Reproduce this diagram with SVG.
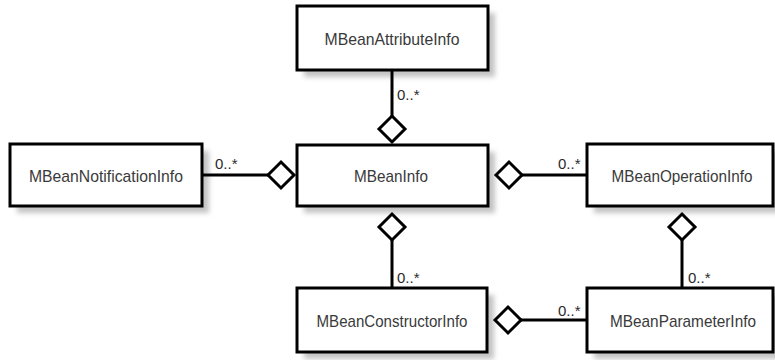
<svg xmlns="http://www.w3.org/2000/svg" width="775" height="360" viewBox="0 0 775 360">
<defs>
<filter id="sh" x="-10%" y="-30%" width="130%" height="170%">
<feGaussianBlur stdDeviation="2.5"/>
</filter>
<style>
.box{fill:#fff;stroke:#000;stroke-width:3}
.shadow{fill:#c4c4c4;filter:url(#sh)}
.lbl{font-family:"Liberation Sans",Arial,sans-serif;font-size:17px;fill:#3a3a3a;text-anchor:middle}
.mult{font-family:"Liberation Sans",Arial,sans-serif;font-size:15px;fill:#2a2a2a}
.ln{stroke:#000;stroke-width:3;fill:none}
.dia{fill:#fff;stroke:#000;stroke-width:3;stroke-linejoin:miter}
</style>
</defs>
<rect width="775" height="360" fill="#fff"/>
<g id="MBeanAttributeInfo">
<rect class="shadow" x="304" y="13" width="191" height="64"/>
<rect class="box" x="297" y="6" width="191" height="64"/>
<text class="lbl" x="392" y="45" textLength="135" lengthAdjust="spacingAndGlyphs">MBeanAttributeInfo</text>
</g>
<g id="MBeanInfo">
<rect class="shadow" x="304" y="152" width="191" height="61"/>
<rect class="box" x="297" y="145" width="191" height="61"/>
<text class="lbl" x="391" y="182" textLength="74" lengthAdjust="spacingAndGlyphs">MBeanInfo</text>
</g>
<g id="MBeanNotificationInfo">
<rect class="shadow" x="17" y="151" width="192" height="62"/>
<rect class="box" x="10" y="144" width="192" height="62"/>
<text class="lbl" x="106" y="182" textLength="154" lengthAdjust="spacingAndGlyphs">MBeanNotificationInfo</text>
</g>
<g id="MBeanOperationInfo">
<rect class="shadow" x="594" y="151" width="186" height="62"/>
<rect class="box" x="587" y="144" width="186" height="62"/>
<text class="lbl" x="682" y="182" textLength="141" lengthAdjust="spacingAndGlyphs">MBeanOperationInfo</text>
</g>
<g id="MBeanConstructorInfo">
<rect class="shadow" x="304" y="295" width="190" height="64"/>
<rect class="box" x="297" y="288" width="190" height="64"/>
<text class="lbl" x="392" y="327" textLength="151" lengthAdjust="spacingAndGlyphs">MBeanConstructorInfo</text>
</g>
<g id="MBeanParameterInfo">
<rect class="shadow" x="594" y="295" width="186" height="64"/>
<rect class="box" x="587" y="288" width="186" height="64"/>
<text class="lbl" x="683" y="327" textLength="146" lengthAdjust="spacingAndGlyphs">MBeanParameterInfo</text>
</g>
<g id="connectors">
<line class="ln" x1="392" y1="70" x2="392" y2="116"/>
<polygon class="dia" points="392,116 405,129 392,142 379,129"/>
<text class="mult" x="397" y="100">0..*</text>

<line class="ln" x1="202" y1="175" x2="268" y2="175"/>
<polygon class="dia" points="268,175 281,162 294,175 281,188"/>
<text class="mult" x="215" y="169">0..*</text>

<line class="ln" x1="522" y1="175" x2="587" y2="175"/>
<polygon class="dia" points="496,175 509,162 522,175 509,188"/>
<text class="mult" x="558" y="169">0..*</text>

<line class="ln" x1="392" y1="240" x2="392" y2="288"/>
<polygon class="dia" points="392,214 405,227 392,240 379,227"/>
<text class="mult" x="397" y="283">0..*</text>

<line class="ln" x1="682" y1="240" x2="682" y2="288"/>
<polygon class="dia" points="682,214 695,227 682,240 669,227"/>
<text class="mult" x="688" y="283">0..*</text>

<line class="ln" x1="521" y1="320" x2="587" y2="320"/>
<polygon class="dia" points="495,320 508,307 521,320 508,333"/>
<text class="mult" x="558" y="316">0..*</text>
</g>
</svg>
